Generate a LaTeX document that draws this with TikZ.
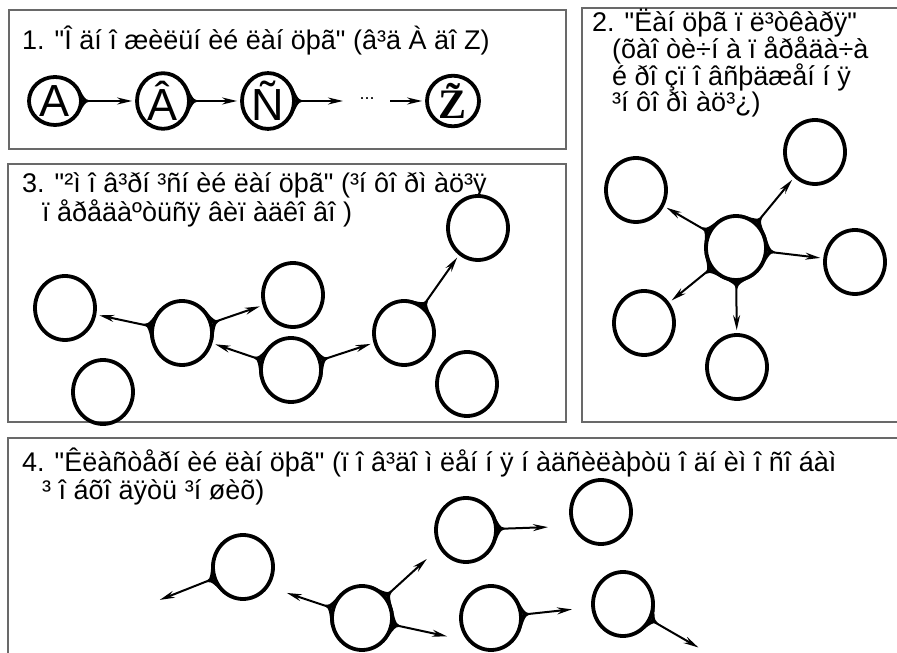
\documentclass[tikz,border=0pt]{standalone}
\usepackage{fontspec}
\setmainfont{Liberation Sans}[Ligatures=TeXOff]
\newfontfamily\zfont{Liberation Serif}
\usetikzlibrary{positioning,arrows.meta,calc,shapes.geometric}
\definecolor{frame}{RGB}{105,105,105}

% tapered stub on the source ring, then the arrow itself
\newcommand\link[2]{%
  \fill let \p1=(#1.center), \p2=(#2.center), \n1={atan2(\y2-\y1,\x2-\x1)} in
    (#1.\n1+32) .. controls ($(#1.\n1)+(\n1:3)$) .. ($(#1.\n1)+(\n1:14)$)
    .. controls ($(#1.\n1)+(\n1:3)$) .. (#1.\n1-32) -- (#1.\n1) -- cycle;
  \draw[arr] (#1) -- (#2);}

\begin{document}
\begin{tikzpicture}[x=1pt,y=1pt,
                  font=\fontsize{27}{27}\selectfont,
                  ring/.style={ellipse,draw,line width=3.8pt,inner sep=0pt,minimum width=60pt,minimum height=64pt},
                  small/.style={ring,minimum width=52pt,minimum height=48pt,font=\fontsize{45}{45}\selectfont},
                  panel/.style={draw=frame,line width=1.3pt},
                  title/.style={anchor=base west,inner sep=0pt,align=left},
                  arr/.style={-{Stealth[length=15pt,width=7pt]},line width=2pt,shorten >=3pt}
                ]
                \useasboundingbox (0,0) rectangle (897,653);
                \clip (0,0) rectangle (897,653);

                \draw[panel] (9,643) rectangle (566,504);
                \draw[panel] (582,645) rectangle (910,231);
                \draw[panel] (8,489) rectangle (566,231);
                \draw[panel] (8,215) rectangle (910,-10);

                \node[title] (t1) at (22,603) {1. "Î äí î æèëüí èé ëàí öþã"  (â³ä À äî  Z)};
                \node[title] (t2) at (592,541) {2. "Ëàí öþã ï ë³òêàðÿ"\\[-1pt]\hspace*{20pt}(õàî òè÷í à ï åðåäà÷à\\[-1pt]\hspace*{20pt}é ðî çï î âñþäæåí í ÿ\\[-1pt]\hspace*{20pt}³í ôî ðì àö³¿)};
                \node[title] (t3) at (22,431) {3. "²ì î â³ðí ³ñí èé ëàí öþã" (³í ôî ðì àö³ÿ\\[1pt]\hspace*{20pt}ï åðåäàºòüñÿ âèï àäêî âî )};
                \node[title] (t4) at (22,153) {4. "Êëàñòåðí èé ëàí öþã" (ï î â³äî ì ëåí í ÿ í àäñèëàþòü î äí èì  î ñî áàì\\[1pt]\hspace*{20pt}³ î áõî äÿòü ³í øèõ)};

                \node[small] (A) at (55,552) {A};
                \node[small] (B) at (163,552) {Â};
                \node[small] (C) at (268,552) {Ñ};
                \node[small,font=\zfont\bfseries\fontsize{42}{42}\selectfont] (Z) at (453,552) {\~{Z}};
                \coordinate (ce) at (346,552);
                \coordinate (zs) at (390,552);
                \node[inner sep=0pt,font=\fontsize{18}{18}\selectfont] (dots) at (367,554) {...};
                \link{A}{B}
                \link{B}{C}
                \link{C}{ce}
                \draw[arr] (zs) -- (Z);

                \node[ring] (hub) at (736,405) {};
                \node[ring] (h1) at (636,463) {};
                \node[ring] (h2) at (815,501) {};
                \node[ring] (h3) at (855,391) {};
                \node[ring] (h4) at (644,330) {};
                \node[ring] (h5) at (737,286) {};
                \link{hub}{h1}
                \link{hub}{h2}
                \link{hub}{h3}
                \link{hub}{h4}
                \link{hub}{h5}

                \node[ring] (n1) at (65,345) {};
                \node[ring] (n2) at (103,261) {};
                \node[ring] (n3) at (182,320) {};
                \node[ring] (n4) at (293,358) {};
                \node[ring] (n5) at (291,283) {};
                \node[ring] (n6) at (404,320) {};
                \node[ring] (n7) at (478,425) {};
                \node[ring] (n8) at (467,269) {};
                \link{n3}{n1}
                \link{n3}{n4}
                \link{n5}{n3}
                \link{n5}{n6}
                \link{n6}{n7}

                \node[ring] (k1) at (243,86) {};
                \node[ring] (k2) at (362,35) {};
                \node[ring] (k3) at (466,123) {};
                \node[ring] (k4) at (601,141) {};
                \node[ring] (k5) at (491,35) {};
                \node[ring] (k6) at (623,49) {};
                \coordinate (o1) at (157,52);
                \coordinate (o2) at (284,61);
                \coordinate (o3) at (429,96);
                \coordinate (o4) at (450,16);
                \coordinate (o5) at (551,126);
                \coordinate (o6) at (575,44);
                \coordinate (o7) at (701,4);
                \link{k1}{o1}
                \link{k2}{o2}
                \link{k2}{o3}
                \link{k2}{o4}
                \link{k3}{o5}
                \link{k5}{o6}
                \link{k6}{o7}
                \end{tikzpicture}
\end{document}
